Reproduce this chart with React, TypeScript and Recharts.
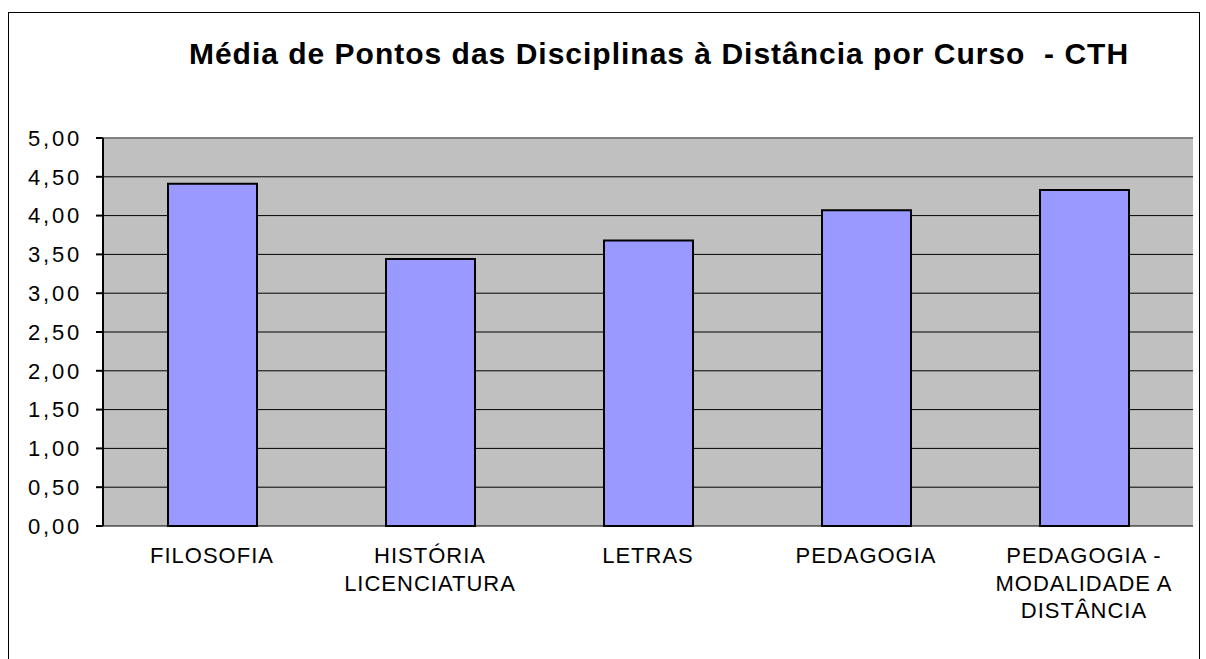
import { BarChart, Bar, XAxis, YAxis, CartesianGrid, ReferenceLine } from "recharts";

const cursos = [
  "FILOSOFIA",
  "HISTÓRIA\nLICENCIATURA",
  "LETRAS",
  "PEDAGOGIA",
  "PEDAGOGIA -\nMODALIDADE A\nDISTÂNCIA",
];
const medias = [4.41, 3.44, 3.68, 4.07, 4.33];
const yTicks = [0, 0.5, 1, 1.5, 2, 2.5, 3, 3.5, 4, 4.5, 5];
const limites = [0, 1, 2, 3, 4, 5];

const data = cursos.map((c, i) => ({ curso: c, media: medias[i], pos: i + 0.5 }));

const FONT = "'Liberation Sans', Arial, sans-serif";

function CursoTick(props: any) {
  const { x, y, payload } = props;
  const lines = String(payload.value).split("\n");
  return (
    <text x={x} y={y} textAnchor="middle" fill="#000" fontSize={22} fontFamily={FONT} letterSpacing={1}>
      {lines.map((l, i) => (
        <tspan key={i} x={x} dy={i === 0 ? 29 : 27.5}>
          {l}
        </tspan>
      ))}
    </text>
  );
}

export default function App() {
  return (
    <div style={{ position: "fixed", left: 0, top: 0, width: 1206, height: 659, background: "#fff", overflow: "hidden" }}>
      <div
        style={{
          position: "absolute",
          left: 8,
          top: 12,
          width: 1190,
          height: 700,
          border: "1px solid #000",
        }}
      />
      <div
        style={{
          position: "absolute",
          left: 659,
          top: 38,
          transform: "translateX(-50%)",
          whiteSpace: "pre",
          fontFamily: FONT,
          fontWeight: "bold",
          fontSize: 30,
          letterSpacing: 1,
          lineHeight: "32px",
          color: "#000",
        }}
      >
        Média de Pontos das Disciplinas à Distância por Curso  - CTH
      </div>
      <div style={{ position: "absolute", left: 0, top: 0 }}>
        <BarChart
          width={1206}
          height={659}
          data={data}
          margin={{ top: 138, right: 13, bottom: 53, left: 0 }}
        >
          <CartesianGrid vertical={false} stroke="#000" fill="#c0c0c0" fillOpacity={1} />
          <XAxis
            xAxisId="lim"
            type="number"
            dataKey="pos"
            domain={[0, 5]}
            ticks={limites}
            height={0}
            tickSize={7}
            tickFormatter={() => ""}
            axisLine={{ stroke: "#000", strokeWidth: 2 }}
            tickLine={{ stroke: "#000", strokeWidth: 2 }}
          />
          <XAxis
            dataKey="curso"
            height={80}
            interval={0}
            tickLine={false}
            axisLine={false}
            tick={<CursoTick />}
          />
          <YAxis
            domain={[0, 5]}
            ticks={yTicks}
            width={103}
            tickSize={7}
            tickMargin={14}
            interval={0}
            tickFormatter={(v: number) => v.toFixed(2).replace(".", ",")}
            tick={{ fill: "#000", fontSize: 22, fontFamily: FONT, letterSpacing: 2.8 }}
            axisLine={{ stroke: "#000", strokeWidth: 2 }}
            tickLine={{ stroke: "#000", strokeWidth: 2 }}
          />
          <YAxis
            yAxisId="dir"
            orientation="right"
            width={0}
            domain={[0, 5]}
            tick={false}
            tickLine={false}
            axisLine={{ stroke: "#808080", strokeWidth: 2 }}
          />
          <ReferenceLine y={5} stroke="#808080" strokeWidth={2} />
          <Bar
            dataKey="media"
            fill="#9999ff"
            stroke="#000"
            strokeWidth={2}
            barSize={89}
            isAnimationActive={false}
          />
        </BarChart>
      </div>
    </div>
  );
}
